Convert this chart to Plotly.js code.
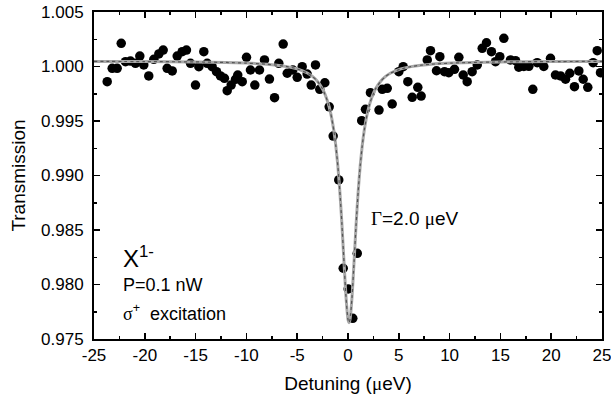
<!DOCTYPE html>
<html>
<head>
<meta charset="utf-8">
<script src="https://cdn.plot.ly/plotly-3.0.1.min.js"></script>
<style>html,body{margin:0;padding:0;background:#fff}#chart{width:611px;height:405px}</style>
</head>
<body>
<div id="chart"></div>
<script>
// Measured transmission points
const detuning = [-23.7,-23.21,-22.72,-22.32,-21.9,-21.41,-20.92,-20.49,-20.1,-19.61,-19.11,-18.62,-18.19,-17.8,-17.3,-16.81,-16.32,-15.9,-15.5,-15.01,-14.68,-14.19,-13.86,-13.37,-12.94,-12.55,-12.16,-11.89,-11.5,-11.07,-10.85,-10.41,-9.99,-9.6,-9.17,-8.71,-8.22,-7.73,-7.23,-6.81,-6.38,-5.98,-5.43,-5.0,-4.51,-4.02,-3.62,-3.2,-2.78,-2.28,-1.85,
  -1.46,-0.91,-0.47,0.02,0.47,0.91,1.35,1.72,2.21,
  3.05,3.37,3.86,4.35,5.0,5.43,5.89,6.32,6.87,7.2,7.8,8.12,8.71,9.04,9.5,9.92,10.48,10.91,11.34,11.73,12.22,12.72,13.21,13.63,14.12,14.52,14.94,15.34,15.99,16.49,16.81,17.31,17.8,18.19,18.62,19.27,19.93,20.42,20.92,21.41,21.83,22.29,22.72,23.15,23.6,24.13,24.53,24.85];
const transmission = [0.99861,0.99983,0.99983,1.00213,1.00044,1.0005,1.00029,1.00096,1.00014,0.99913,1.00066,1.00115,1.00151,0.99983,0.99959,1.00096,1.00136,1.00151,1.00029,0.9983,0.99998,1.00136,1.00029,0.99998,0.99952,0.99913,0.99892,0.99778,0.9983,0.99882,0.99922,0.99861,1.00084,0.99968,0.9983,0.99968,1.0006,0.99885,0.99714,1.00029,1.00206,0.99938,0.99968,0.99901,0.99998,0.99931,0.9983,1.00014,0.99791,0.99851,0.9963,
  0.99362,0.98959,0.98149,0.97959,0.9769,0.98286,0.99503,0.99607,0.9976,
  0.996,0.99791,0.998,0.99656,0.99952,0.99998,0.99861,0.99717,0.99809,0.99729,1.0006,1.00145,0.99961,1.0009,0.99952,0.99943,0.99974,1.00084,0.99922,0.99861,0.99952,1.00014,1.00167,1.00218,1.00136,1.00044,1.0009,1.00259,1.0006,1.00053,0.99993,1.0,1.00002,0.99791,1.00035,1.0,1.00075,0.99922,0.99913,0.99883,0.99938,0.99815,0.99959,0.99883,0.99809,1.00035,1.00145,0.99943];

// Fit curve
const fitX = [-25,-20,-15,-12,-10,-8,-7,-6,-5,-4,-3.5,-3,-2.5,-2,-1.7,-1.4,-1.2,-1.0,-0.8,-0.6,-0.4,-0.2,0,0.1,0.2,0.4,0.6,0.8,1.0,1.2,1.4,1.6,1.9,2.2,2.7,3.2,3.7,4.2,5.2,6.2,7.2,8.2,10.2,12.2,15,20,25];
const fitY = [1.00047,1.00045,1.00042,1.00037,1.00031,1.00021,1.00012,0.99999,0.99978,0.9994,0.99909,0.99863,0.99793,0.99677,0.9957,0.99415,0.99272,0.99088,0.9885,0.98555,0.98216,0.9789,0.97679,0.9765,0.97679,0.9789,0.98216,0.98555,0.9885,0.99088,0.99272,0.99415,0.9957,0.99677,0.99793,0.99863,0.99909,0.9994,0.99978,0.99999,1.00012,1.00021,1.00031,1.00037,1.00042,1.00045,1.00047];

const xTicks = [-25,-20,-15,-10,-5,0,5,10,15,20,25];
const yTicks = [0.975,0.980,0.985,0.990,0.995,1.000,1.005];

const FONT = 'Liberation Sans, Arial, sans-serif';
const SERIF = "'Liberation Serif', 'Times New Roman', serif";

const traces = [
  {x: detuning, y: transmission, type: 'scatter', mode: 'markers',
   marker: {color: '#000', size: 9.5}, hoverinfo: 'skip'},
  {x: fitX, y: fitY, type: 'scatter', mode: 'lines',
   line: {color: '#a8a8a8', width: 3, shape: 'spline', smoothing: 0.6}},
  {x: fitX, y: fitY, type: 'scatter', mode: 'lines',
   line: {color: '#555', width: 1.2, dash: 'dot', shape: 'spline', smoothing: 0.6}}
];

const axisCommon = {
  showline: true, linecolor: '#000', linewidth: 2, mirror: 'ticks',
  ticks: 'inside', ticklen: 6, tickwidth: 1.5, tickcolor: '#000',
  showgrid: false, zeroline: false, ticklabeloverflow: 'allow',
  tickfont: {family: FONT, size: 17, color: '#000'}
};

const layout = {
  width: 611, height: 405,
  margin: {l: 94, r: 9, t: 12, b: 66},
  paper_bgcolor: '#fff', plot_bgcolor: '#fff',
  showlegend: false,
  font: {family: FONT, color: '#000'},
  xaxis: Object.assign({}, axisCommon, {
    range: [-25, 25], tickvals: xTicks, ticktext: xTicks.map(String),
    minor: {dtick: 2.5, ticks: 'inside', ticklen: 3, tickwidth: 1.5, tickcolor: '#000', showgrid: false},
    title: {text: 'Detuning (<span style="font-family:' + SERIF + '">μ</span>eV)', font: {family: FONT, size: 19, color: '#000'}, standoff: 12}
  }),
  yaxis: Object.assign({}, axisCommon, {
    range: [0.975, 1.005], tickvals: yTicks, ticktext: yTicks.map(v => v.toFixed(3)),
    ticklabelstandoff: 5,
    minor: {dtick: 0.0025, ticks: 'inside', ticklen: 3, tickwidth: 1.5, tickcolor: '#000', showgrid: false},
    title: {text: 'Transmission', font: {family: FONT, size: 19, color: '#000'}, standoff: 10}
  }),
  annotations: [
    {x: -22.3, y: 0.98255, xref: 'x', yref: 'y', xanchor: 'left', yanchor: 'middle', showarrow: false,
     text: 'X<sup>1-</sup>', font: {family: FONT, size: 24, color: '#000'}},
    {x: -22.3, y: 0.9800, xref: 'x', yref: 'y', xanchor: 'left', yanchor: 'middle', showarrow: false,
     text: 'P=0.1 nW', font: {family: FONT, size: 18, color: '#000'}},
    {x: -22.3, y: 0.9774, xref: 'x', yref: 'y', xanchor: 'left', yanchor: 'middle', showarrow: false,
     text: '<span style="font-family:' + SERIF + '">σ</span><sup>+</sup>  excitation', font: {family: FONT, size: 18, color: '#000'}},
    {x: 2.1, y: 0.9861, xref: 'x', yref: 'y', xanchor: 'left', yanchor: 'middle', showarrow: false,
     text: '<span style="font-family:' + SERIF + '">Γ</span>=2.0 <span style="font-family:' + SERIF + '">μ</span>eV', font: {family: FONT, size: 19, color: '#000'}}
  ]
};

Plotly.newPlot('chart', traces, layout, {staticPlot: true, displayModeBar: false});
</script>
</body>
</html>
